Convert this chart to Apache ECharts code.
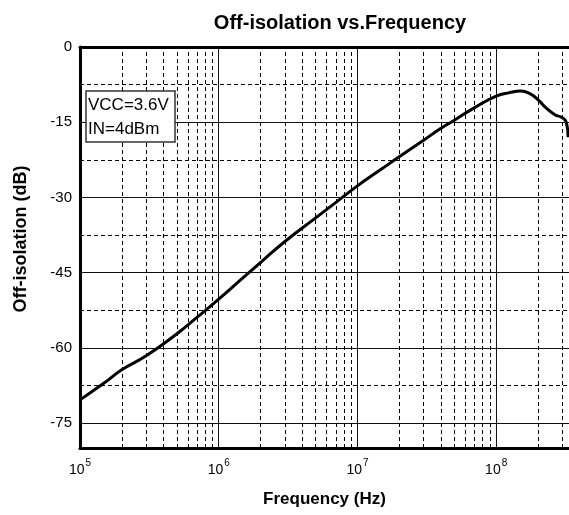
<!DOCTYPE html>
<html>
<head>
<meta charset="utf-8">
<script src="https://cdn.jsdelivr.net/npm/echarts@6/dist/echarts.min.js"></script>
<style>
html,body{margin:0;padding:0;background:#fff;}
#chart{width:569px;height:515px;}
</style>
</head>
<body>
<div id="chart"></div>
<script>
const titleText = 'Off-isolation vs.Frequency';
const xName = 'Frequency (Hz)';
const yName = 'Off-isolation (dB)';
const notes = ['VCC=3.6V', 'IN=4dBm'];

const freqHz = [1e5, 1.5e5, 2e5, 3e5, 5e5, 7e5, 1e6, 1.5e6, 2e6, 3e6, 5e6, 7e6, 1e7, 1.5e7, 2e7, 3e7, 4e7, 5e7, 7e7, 1e8, 1.25e8, 1.5e8, 1.75e8, 2e8, 2.3e8, 2.65e8, 3e8, 3.2e8, 3.3e8];
const isolationDb = [-70.4, -67.0, -64.4, -61.6, -57.2, -53.9, -50.3, -46.0, -43.0, -38.8, -34.1, -31.0, -27.7, -24.3, -21.9, -18.6, -16.2, -14.6, -12.1, -9.8, -9.1, -8.8, -9.3, -10.5, -12.2, -13.5, -14.1, -15.0, -18.0];

const xMin = 1e5, xMax = 3.35e8;
const yMin = -80, yMax = 0;
const yLabelValues = [0, -15, -30, -45, -60, -75];
const majorY = [-15, -30, -45, -60, -75];
const minorY = [-7.5, -22.5, -37.5, -52.5, -67.5];
const minorX = [2e5,3e5,4e5,5e5,6e5,7e5,8e5,9e5, 2e6,3e6,4e6,5e6,6e6,7e6,8e6,9e6, 2e7,3e7,4e7,5e7,6e7,7e7,8e7,9e7, 2e8,3e8];

const FONT = "'Liberation Sans', Arial, sans-serif";

const chart = echarts.init(document.getElementById('chart'), null, {renderer: 'canvas'});

const gridLines = [];
majorY.forEach(v => gridLines.push({yAxis: v, lineStyle: {type: 'solid', color: '#111', width: 1}}));
minorY.forEach(v => gridLines.push({yAxis: v, lineStyle: {type: [4, 3], color: '#000', width: 1}}));
minorX.forEach(v => gridLines.push({xAxis: v, lineStyle: {type: [4, 3], color: '#000', width: 1}}));

chart.setOption({
  animation: false,
  backgroundColor: '#fff',
  title: {
    text: titleText,
    left: 335, top: 8, textAlign: 'center',
    textStyle: {fontFamily: FONT, fontWeight: 'bold', fontSize: 20, color: '#000'}
  },
  grid: {left: 80, right: 0, top: 47, bottom: 67, containLabel: false},
  xAxis: [{
    type: 'log', logBase: 10, min: xMin, max: xMax,
    name: xName, nameLocation: 'middle', nameGap: 43,
    nameTextStyle: {fontFamily: FONT, fontWeight: 'bold', fontSize: 17, color: '#000'},
    axisLine: {show: true, onZero: false, lineStyle: {color: '#000', width: 3}},
    axisTick: {show: false},
    splitLine: {show: true, lineStyle: {color: '#111', width: 1, type: 'solid'}},
    axisLabel: {
      margin: 10,
      showMinLabel: true, showMaxLabel: false,
      formatter: function (v) {
        const l = Math.log10(v);
        const e = Math.round(l);
        if (Math.abs(l - e) > 1e-6) return '';
        return '{b|10}{s|' + e + '}';
      },
      rich: {
        b: {fontFamily: FONT, fontSize: 14, color: '#000', verticalAlign: 'bottom'},
        s: {fontFamily: FONT, fontSize: 10, color: '#000', verticalAlign: 'top', padding: [0, 0, 9, 1]}
      }
    }
  }, {
    type: 'value', position: 'top', min: 0, max: 1,
    axisLine: {show: true, onZero: false, lineStyle: {color: '#000', width: 3}},
    axisTick: {show: false}, axisLabel: {show: false}, splitLine: {show: false}
  }],
  yAxis: {
    type: 'value', min: yMin, max: yMax, interval: 5,
    name: yName, nameLocation: 'middle', nameGap: 50, nameRotate: 90,
    nameTextStyle: {fontFamily: FONT, fontWeight: 'bold', fontSize: 18, color: '#000', padding: [0, 0, 0, 17]},
    axisLine: {show: true, onZero: false, lineStyle: {color: '#000', width: 3}},
    axisTick: {show: false},
    splitLine: {show: false},
    axisLabel: {
      margin: 8, showMinLabel: true, showMaxLabel: true,
      fontFamily: FONT, fontSize: 15, color: '#000',
      formatter: function (v) { return yLabelValues.indexOf(v) >= 0 ? String(v) : ''; }
    }
  },
  series: [{
    type: 'line', data: [], z: 1, silent: true,
    markLine: {silent: true, symbol: ['none', 'none'], label: {show: false}, animation: false, data: gridLines}
  }, {
    type: 'line', z: 3, silent: true,
    data: freqHz.map((f, i) => [f, isolationDb[i]]),
    showSymbol: false, smooth: 0.5, clip: true,
    lineStyle: {color: '#000', width: 3}
  }],
  graphic: [{
    type: 'rect', z: 10,
    shape: {x: 86, y: 91, width: 89, height: 51},
    style: {fill: '#fff', stroke: '#333', lineWidth: 1.5}
  }, {
    type: 'text', z: 11, x: 88, y: 105.8,
    style: {text: notes[0], font: '17px ' + FONT, fill: '#000', verticalAlign: 'middle'}
  }, {
    type: 'text', z: 11, x: 88, y: 129.1,
    style: {text: notes[1], font: '17px ' + FONT, fill: '#000', verticalAlign: 'middle'}
  }]
});
</script>
</body>
</html>
